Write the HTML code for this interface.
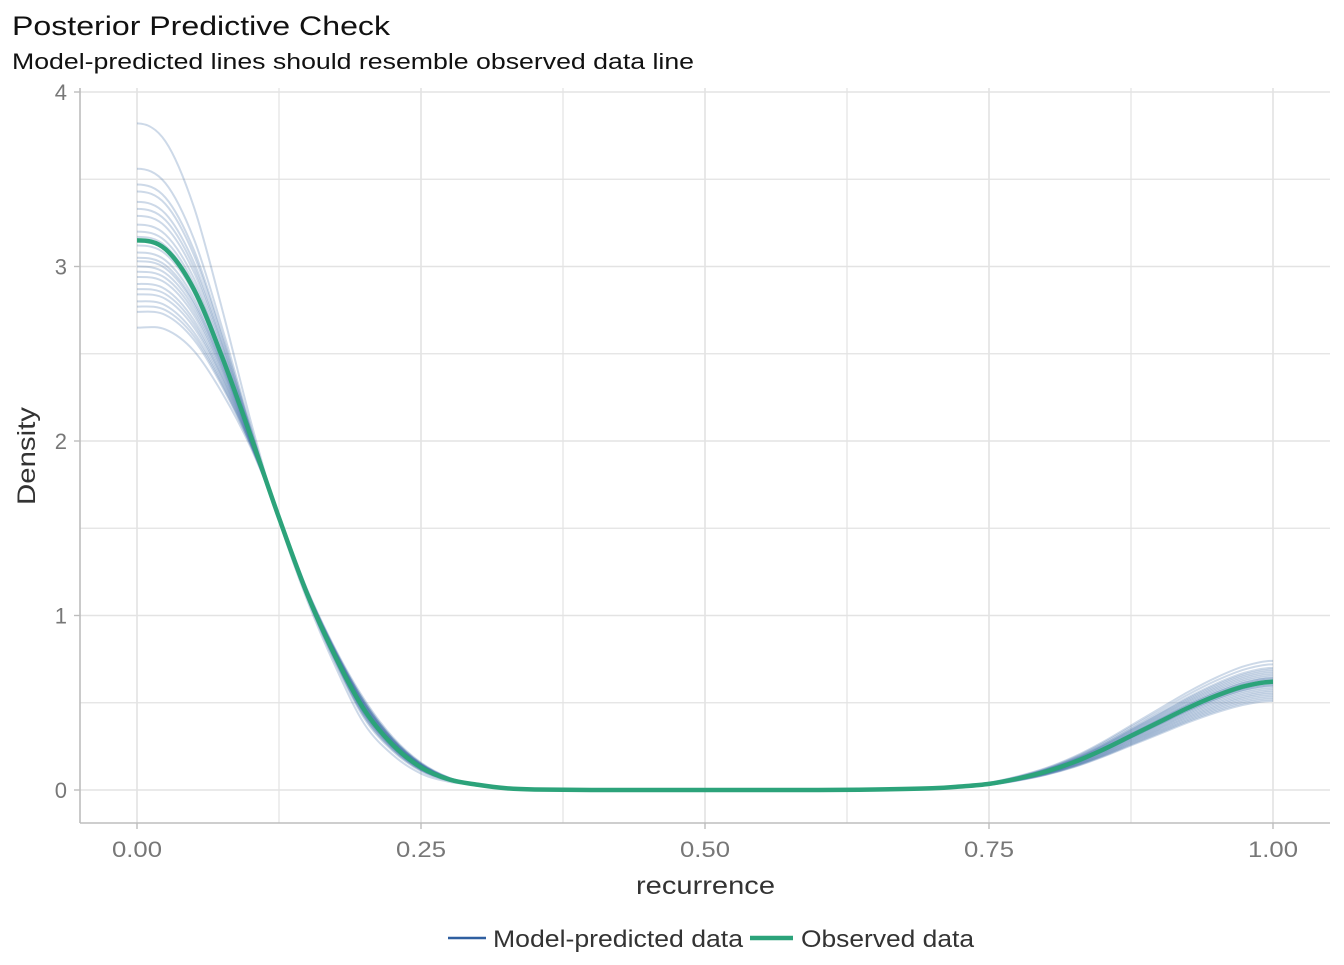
<!DOCTYPE html>
<html><head><meta charset="utf-8"><style>
body{margin:0;background:#fff;font-family:"Liberation Sans",Arial,sans-serif;}
svg text{font-family:"Liberation Sans",Arial,sans-serif;}
</style></head><body>
<svg id="chart" width="1344" height="960" xmlns="http://www.w3.org/2000/svg">
<rect width="1344" height="960" fill="#fff"/>
<text x="12" y="35" font-size="27" fill="#111" textLength="378" lengthAdjust="spacingAndGlyphs">Posterior Predictive Check</text>
<text x="12" y="69" font-size="22" fill="#111" textLength="682" lengthAdjust="spacingAndGlyphs">Model-predicted lines should resemble observed data line</text>
<g id="grid"></g>
<g id="axes"></g>
<g id="draws"></g>
<g id="obs"></g>
<text x="636" y="894" font-size="25" fill="#333" textLength="139" lengthAdjust="spacingAndGlyphs">recurrence</text>
<text transform="translate(35,505) rotate(-90)" font-size="25" fill="#333" textLength="98" lengthAdjust="spacingAndGlyphs">Density</text>
<g>
<line x1="448" y1="938" x2="486" y2="938" stroke="#2f5fa0" stroke-width="2.5"/>
<text x="493" y="947" font-size="24" fill="#333" textLength="250" lengthAdjust="spacingAndGlyphs">Model-predicted data</text>
<line x1="750" y1="938" x2="793" y2="938" stroke="#2ca37a" stroke-width="4.5"/>
<text x="801" y="947" font-size="24" fill="#333" textLength="173" lengthAdjust="spacingAndGlyphs">Observed data</text>
</g>
</svg>
<script>
const xGrid = [0,0.025,0.05,0.075,0.1,0.125,0.15,0.175,0.2,0.225,0.25,0.275,0.3,0.325,0.35,0.4,0.5,0.6,0.65,0.7,0.725,0.75,0.775,0.8,0.825,0.85,0.875,0.9,0.925,0.95,0.975,1.0];
const observed = [3.15,3.1,2.87,2.48,2.03,1.56,1.12,0.76,0.46,0.26,0.13,0.06,0.03,0.01,0.003,0,0,0,0.003,0.01,0.02,0.035,0.065,0.105,0.16,0.23,0.31,0.39,0.47,0.54,0.595,0.62];
const drawPeaks = [3.82,3.56,3.47,3.43,3.37,3.33,3.29,3.24,3.2,3.17,3.12,3.08,3.05,3.03,3.0,2.97,2.94,2.9,2.87,2.84,2.8,2.77,2.74,2.65];
const drawTails = [0.74,0.72,0.7,0.69,0.68,0.67,0.66,0.65,0.64,0.64,0.63,0.62,0.61,0.6,0.6,0.59,0.58,0.57,0.56,0.55,0.54,0.53,0.52,0.51];
const xTicks = [0,0.25,0.5,0.75,1.0];
const xTickLabels = ["0.00","0.25","0.50","0.75","1.00"];
const yTicks = [0,1,2,3,4];
const yTickLabels = ["0","1","2","3","4"];

const NS="http://www.w3.org/2000/svg";
const X0=137,X1=1273,Y0=790,Y4=92;
const sx=v=>X0+(X1-X0)*v;
const sy=v=>Y0-(Y0-Y4)*v/4;
const L=80,R=1330,T=88,B=823;
function mk(tag,attrs,parent){const e=document.createElementNS(NS,tag);for(const k in attrs)e.setAttribute(k,attrs[k]);parent.appendChild(e);return e;}
const grid=document.getElementById('grid'),axes=document.getElementById('axes');
for(let i=0;i<=8;i++){const v=i/8;
 const l=mk('line',{x1:sx(v),x2:sx(v),y1:T,y2:B,stroke:'#e3e3e3','stroke-width':i%2?1.2:1.6},grid);
 
 }
for(let i=0;i<=8;i++){const v=i/2;
 const l=mk('line',{x1:L,x2:R,y1:sy(v),y2:sy(v),stroke:'#e3e3e3','stroke-width':i%2?1.2:1.6},grid);
 
 }
mk('line',{x1:L,x2:L,y1:T,y2:B,stroke:'#bdbdbd','stroke-width':1.6},axes);
mk('line',{x1:L,x2:R,y1:B,y2:B,stroke:'#bdbdbd','stroke-width':1.6},axes);
xTicks.forEach((v,i)=>{
 mk('line',{x1:sx(v),x2:sx(v),y1:B,y2:B+6,stroke:'#bdbdbd','stroke-width':1.4},axes);
 const t=mk('text',{x:sx(v)-25,y:857,'font-size':22,fill:'#777',textLength:50,lengthAdjust:'spacingAndGlyphs'},axes);t.textContent=xTickLabels[i];
 
 });
yTicks.forEach((v,i)=>{
 mk('line',{x1:L-6,x2:L,y1:sy(v),y2:sy(v),stroke:'#bdbdbd','stroke-width':1.4},axes);
 const t=mk('text',{x:67,y:sy(v)+8,'font-size':22,fill:'#777','text-anchor':'end'},axes);t.textContent=yTickLabels[i];
 
 });
function pathFor(ys){
 const p=xGrid.map((x,i)=>[sx(x),sy(ys[i])]);
 const n=p.length;
 const get=k=>{
  if(k<0) return [2*p[0][0]-p[1][0],p[1][1]];
  if(k>=n) return [2*p[n-1][0]-p[n-2][0],p[n-2][1]];
  return p[k];};
 let d='M'+p[0][0]+','+p[0][1];
 for(let i=0;i<n-1;i++){
  const p0=get(i-1),p1=p[i],p2=p[i+1],p3=get(i+2);
  const c1=[p1[0]+(p2[0]-p0[0])/6,p1[1]+(p2[1]-p0[1])/6];
  const c2=[p2[0]-(p3[0]-p1[0])/6,p2[1]-(p3[1]-p1[1])/6];
  d+=` C${c1[0]},${c1[1]} ${c2[0]},${c2[1]} ${p2[0]},${p2[1]}`;}
 return d;}
const draws=document.getElementById('draws');
drawPeaks.forEach((pk,j)=>{
 const tail=drawTails[j];
 const ys=xGrid.map((x,i)=>{
  let w=x<0.125?Math.pow(1-Math.pow(x/0.125,2),2):-(Math.max(0,1-Math.abs(x-0.2)/0.09))*0.12;
  let y=observed[i]+(pk-observed[0])*w;
  if(x>0.5) y=observed[i]*tail/observed[observed.length-1];
  return Math.max(0,y);});
 const p=mk('path',{d:pathFor(ys),fill:'none',stroke:'#2f5fa0','stroke-opacity':0.24,'stroke-width':2},draws);
 
 });
const o=mk('path',{d:pathFor(observed),fill:'none',stroke:'#2ca37a','stroke-width':4.5},document.getElementById('obs'));


</script>
</body></html>
